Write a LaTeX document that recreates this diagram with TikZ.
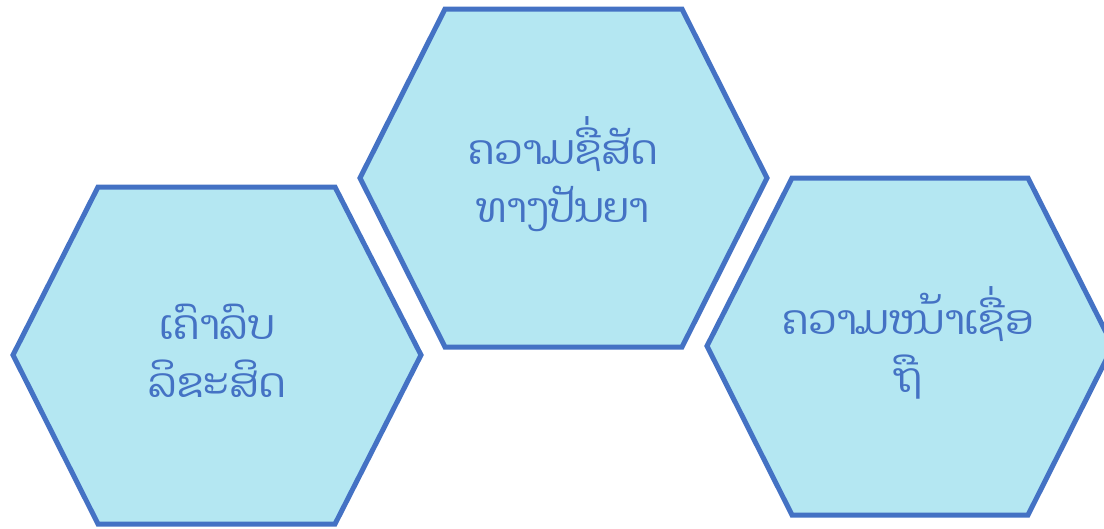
\documentclass[tikz,border=0pt]{standalone}
\usepackage{fontspec}
\newfontfamily\laofont[Script=Lao]{Dhyana}
\definecolor{edge}{HTML}{4472C4}
\definecolor{cell}{HTML}{B4E7F2}
\tikzset{
 hexcell/.style={draw=edge,fill=cell,line width=5pt,line join=miter},
 celltext/.style={text=edge,align=center,font=\laofont\fontsize{41}{58}\selectfont}
}

\begin{document}
\begin{tikzpicture}[x=1pt,y=-1pt]
  \useasboundingbox (0,0) rectangle (1104,528);
  \begin{scope}
  \clip (0,0) rectangle (1104,528);
  % three cells
  \draw[hexcell] (98,187) -- (335,187) -- (421,355) -- (335,524) -- (98,524) -- (13,355) -- cycle;
  \draw[hexcell] (445,9) -- (682,9) -- (767,178) -- (682,347) -- (445,347) -- (360,178) -- cycle;
  \draw[hexcell] (792,178) -- (1028,178) -- (1113,346) -- (1028,515) -- (792,515) -- (707,346) -- cycle;
  \end{scope}

  \node[celltext] (respect) at (217,351) {ເຄົາລົບ\\ລິຂະສິດ};
  \node[celltext] (honesty) at (563,174) {ຄວາມຊື່ສັດ\\ທາງປັນຍາ};
  \node[celltext] (trust) at (908,343) {ຄວາມໜ້າເຊື່ອ\\ຖື};
\end{tikzpicture}
\end{document}
